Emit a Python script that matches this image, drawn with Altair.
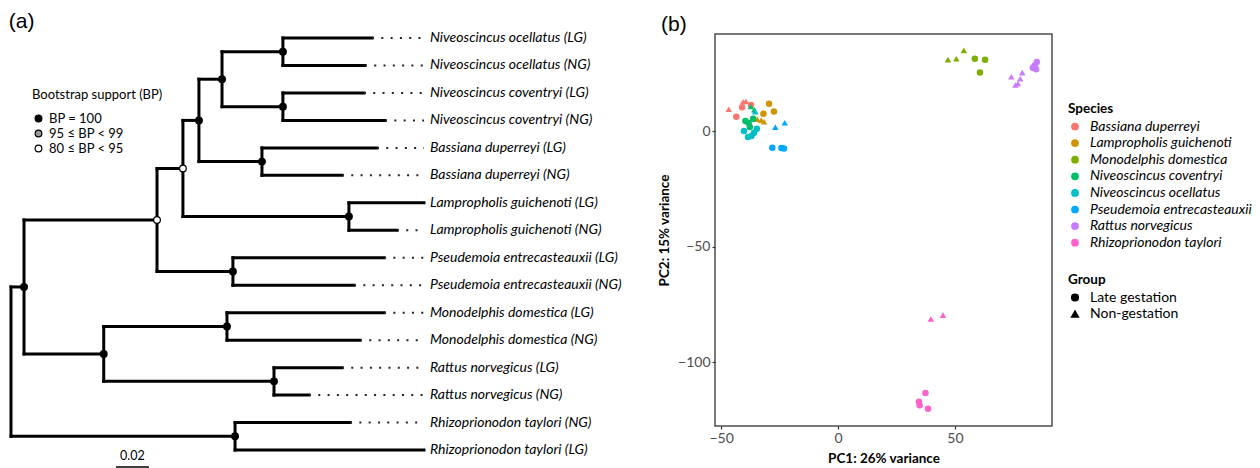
import altair as alt
import pandas as pd

# ---------------- Panel (a): phylogeny data ----------------
leaf_labels = [
    "Niveoscincus ocellatus (LG)", "Niveoscincus ocellatus (NG)",
    "Niveoscincus coventryi (LG)", "Niveoscincus coventryi (NG)",
    "Bassiana duperreyi (LG)", "Bassiana duperreyi (NG)",
    "Lampropholis guichenoti (LG)", "Lampropholis guichenoti (NG)",
    "Pseudemoia entrecasteauxii (LG)", "Pseudemoia entrecasteauxii (NG)",
    "Monodelphis domestica (LG)", "Monodelphis domestica (NG)",
    "Rattus norvegicus (LG)", "Rattus norvegicus (NG)",
    "Rhizoprionodon taylori (NG)", "Rhizoprionodon taylori (LG)",
]
leaf_depth = [0.2188, 0.2145, 0.2139, 0.2267, 0.2218, 0.2006, 0.2503, 0.2339,
              0.2261, 0.2079, 0.2261, 0.2115, 0.2006, 0.1806, 0.2055, 0.2503]
leaf_parent = ["Nocell", "Nocell", "Ncov", "Ncov", "Bdup", "Bdup", "Lgui", "Lgui",
               "Pent", "Pent", "Mdom", "Mdom", "Rnor", "Rnor", "Rtay", "Rtay"]

node_names = ["root", "A", "B", "C", "D", "E", "Nocell", "Ncov", "Bdup", "Lgui",
              "Pent", "Mam", "Mdom", "Rnor", "Rtay"]
node_parent = [None, "root", "A", "B", "C", "D", "E", "E", "D", "C", "B", "A",
               "Mam", "Mam", "root"]
node_depth = [0.0, 0.0079, 0.0885, 0.1042, 0.1139, 0.1279, 0.1648, 0.1648, 0.1521,
              0.2048, 0.1345, 0.0562, 0.1309, 0.1594, 0.1358]
node_support = [None, "BP = 100", "80 ≤ BP < 95", "80 ≤ BP < 95", "BP = 100",
                "BP = 100", "BP = 100", "BP = 100", "BP = 100", "BP = 100",
                "BP = 100", "BP = 100", "BP = 100", "BP = 100", "BP = 100"]
support_levels = ["BP = 100", "95 ≤ BP < 99", "80 ≤ BP < 95"]
scale_bar_len = 0.02
scale_bar_start = 0.0636

# ---------------- Panel (b): PCA data ----------------
species_levels = ["Bassiana duperreyi", "Lampropholis guichenoti", "Monodelphis domestica",
                  "Niveoscincus coventryi", "Niveoscincus ocellatus",
                  "Pseudemoia entrecasteauxii", "Rattus norvegicus", "Rhizoprionodon taylori"]
species_colors = ["#F8766D", "#CD9600", "#7CAE00", "#00BE67", "#00BFC4", "#00A9FF",
                  "#C77CFF", "#FF61CC"]
group_levels = ["Late gestation", "Non-gestation"]

pca_species = (["Bassiana duperreyi"] * 6 + ["Lampropholis guichenoti"] * 7 +
               ["Monodelphis domestica"] * 6 + ["Niveoscincus coventryi"] * 6 +
               ["Niveoscincus ocellatus"] * 6 + ["Pseudemoia entrecasteauxii"] * 5 +
               ["Rattus norvegicus"] * 9 + ["Rhizoprionodon taylori"] * 6)
NG, LG = "Non-gestation", "Late gestation"
pca_group = ([NG, NG, NG, LG, LG, LG] +
             [LG, LG, LG, NG, NG, NG, NG] +
             [NG, NG, NG, LG, LG, LG] +
             [NG, NG, LG, LG, LG, LG] +
             [NG, LG, LG, LG, LG, LG] +
             [NG, NG, LG, LG, LG] +
             [NG, NG, NG, NG, NG, LG, LG, LG, LG] +
             [NG, NG, LG, LG, LG, LG])
pca_pc1 = ([-46.7, -40.6, -39.4, -43.5, -41.0, -37.2] +
           [-29.5, -27.4, -31.9, -36.0, -34.5, -32.8, -31.6] +
           [47.0, 50.6, 53.8, 58.5, 62.9, 60.7] +
           [-37.3, -35.8, -39.6, -37.7, -36.3, -38.2] +
           [-35.4, -40.2, -38.5, -37.0, -35.9, -34.7] +
           [-26.8, -22.8, -28.1, -24.2, -23.1] +
           [74.1, 78.8, 77.9, 75.9, 76.9, 85.0, 84.1, 83.3, 84.7] +
           [39.7, 44.9, 37.4, 34.6, 34.9, 38.5])
pca_pc2 = ([9.4, 12.7, 12.9, 6.2, 10.3, 11.3] +
           [11.8, 8.4, 7.5, 5.5, 5.1, 4.7, 4.0] +
           [30.9, 31.3, 34.9, 31.3, 30.9, 25.3] +
           [10.6, 9.2, 4.3, 1.7, 5.3, 3.5] +
           [8.4, 0.0, -2.6, -2.2, -0.7, 1.0] +
           [1.7, 3.6, -7.2, -7.4, -7.6] +
           [23.5, 25.3, 22.6, 19.9, 20.6, 29.9, 28.4, 27.4, 26.7] +
           [-81.4, -79.7, -113.4, -117.2, -118.7, -120.2])

# ---------------- build tree layout tables ----------------
depth = dict(zip(node_names, node_depth))
parent = dict(zip(node_names, node_parent))
children = {n: [] for n in node_names}
for n, p in zip(node_names, node_parent):
    if p is not None:
        children[p].append(("node", n))
for i, p in enumerate(leaf_parent):
    children[p].append(("leaf", i))

ypos = {}
def get_y(kind, key):
    if kind == "leaf":
        return float(key)
    if key in ypos:
        return ypos[key]
    ys = [get_y(k, c) for k, c in children[key]]
    ypos[key] = sum(ys) / len(ys)
    return ypos[key]

for n in node_names:
    get_y("node", n)

segs = []
for n in node_names:
    ys = [get_y(k, c) for k, c in children[n]]
    segs.append(dict(x=depth[n], x2=depth[n], y=min(ys), y2=max(ys)))
    if parent[n] is not None:
        segs.append(dict(x=depth[parent[n]], x2=depth[n], y=ypos[n], y2=ypos[n]))
for i, p in enumerate(leaf_parent):
    segs.append(dict(x=depth[p], x2=leaf_depth[i], y=float(i), y2=float(i)))
seg_df = pd.DataFrame(segs)

label_col = max(leaf_depth)
leaf_df = pd.DataFrame(dict(label=leaf_labels, tip=leaf_depth,
                            end=[label_col] * len(leaf_labels),
                            y=[float(i) for i in range(len(leaf_labels))]))
node_df = pd.DataFrame(dict(x=node_depth, y=[ypos[n] for n in node_names],
                            support=node_support)).dropna()
bar_df = pd.DataFrame(dict(x=[scale_bar_start], x2=[scale_bar_start + scale_bar_len],
                           mid=[scale_bar_start + scale_bar_len / 2],
                           txt=[f"{scale_bar_len:.2f}"], yb=[15.62], yt=[15.22]))

PANEL_A_W = 635
XS = alt.Scale(domain=[-0.0006, -0.0006 + PANEL_A_W / 1650], nice=False, zero=False)
YS = alt.Scale(domain=[-0.146, 15.69], reverse=True, nice=False, zero=False)

branches = alt.Chart(seg_df).mark_rule(strokeWidth=3, color="black", strokeCap="square").encode(
    x=alt.X("x:Q", scale=XS, axis=None), x2="x2:Q",
    y=alt.Y("y:Q", scale=YS, axis=None), y2="y2:Q")

leaders = alt.Chart(leaf_df).transform_filter("datum.end - datum.tip > 0.001").mark_rule(
    strokeWidth=2, color="#222222", strokeDash=[2, 7.3]).encode(
    x=alt.X("tip:Q", scale=XS, axis=None), x2="end:Q",
    y=alt.Y("y:Q", scale=YS, axis=None))

labels = alt.Chart(leaf_df).mark_text(align="left", baseline="middle", dx=6, font="Lato",
                                      fontStyle="italic", fontSize=14, color="black").encode(
    x=alt.X("end:Q", scale=XS, axis=None),
    y=alt.Y("y:Q", scale=YS, axis=None), text="label:N")

nodes = alt.Chart(node_df).mark_point(filled=True, shape="circle", size=45, stroke="black",
                                      strokeWidth=1.2, opacity=1).encode(
    x=alt.X("x:Q", scale=XS, axis=None),
    y=alt.Y("y:Q", scale=YS, axis=None),
    fill=alt.Fill("support:N",
                  scale=alt.Scale(domain=support_levels, range=["black", "#9a9a9a", "white"]),
                  legend=alt.Legend(title="Bootstrap support (BP)", orient="none",
                                    legendX=22, legendY=55, titleFont="Lato",
                                    titleFontWeight="normal", titleFontSize=13,
                                    titleColor="black", labelFont="Lato", labelFontSize=13,
                                    labelColor="black", symbolType="circle", symbolSize=45,
                                    symbolStrokeColor="black", symbolStrokeWidth=1.2,
                                    rowPadding=1, titlePadding=10, labelOffset=4)))

bar = alt.Chart(bar_df).mark_rule(strokeWidth=1.5, color="black").encode(
    x=alt.X("x:Q", scale=XS, axis=None), x2="x2:Q",
    y=alt.Y("yb:Q", scale=YS, axis=None))
bar_txt = alt.Chart(bar_df).mark_text(font="Lato", fontSize=12.5, color="black",
                                      baseline="middle").encode(
    x=alt.X("mid:Q", scale=XS, axis=None),
    y=alt.Y("yt:Q", scale=YS, axis=None), text="txt:N")

panel_a = alt.layer(branches, leaders, labels, nodes, bar, bar_txt).properties(
    width=PANEL_A_W, height=435,
    title=alt.TitleParams("(a)", anchor="start", fontSize=21, font="Liberation Sans",
                          fontWeight="normal", color="black", offset=2, dy=3))

# ---------------- Panel (b) ----------------
pca_df = pd.DataFrame(dict(species=pca_species, group=pca_group, pc1=pca_pc1, pc2=pca_pc2))

panel_b = alt.Chart(pca_df).mark_point(filled=True, size=42, opacity=1).encode(
    x=alt.X("pc1:Q", title="PC1: 26% variance",
            scale=alt.Scale(domain=[-52.6, 91.5], nice=False, zero=False),
            axis=alt.Axis(values=[-50, 0, 50])),
    y=alt.Y("pc2:Q", title="PC2: 15% variance",
            scale=alt.Scale(domain=[-127.7, 42], nice=False, zero=False),
            axis=alt.Axis(values=[-100, -50, 0])),
    color=alt.Color("species:N", scale=alt.Scale(domain=species_levels, range=species_colors),
                    legend=alt.Legend(title="Species", orient="none", legendX=1058, legendY=68,
                                      labelFontStyle="italic", symbolType="circle",
                                      labelFontSize=14, labelLimit=300, symbolSize=60,
                                      rowPadding=2.6)),
    shape=alt.Shape("group:N", scale=alt.Scale(domain=group_levels,
                                                range=["circle", "triangle-up"]),
                    legend=alt.Legend(title="Group", orient="none", legendX=1058, legendY=239,
                                      symbolFillColor="black", symbolStrokeColor="black",
                                      labelFontSize=14, labelLimit=300, symbolSize=45,
                                      rowPadding=2.5)),
).properties(
    width=337, height=392,
    view=alt.ViewBackground(stroke="#4d4d4d", strokeWidth=1.5),
    title=alt.TitleParams("(b)", anchor="start", frame="group", fontSize=21,
                          font="Liberation Sans", fontWeight="normal", color="black",
                          offset=2, dx=-54, dy=3))

chart = alt.hconcat(panel_a, panel_b, spacing=11).properties(
    padding={"top": 3, "left": 0, "right": 0, "bottom": 0}).configure_view(
    stroke=None).configure_axis(
    grid=False, domain=False, tickColor="#333333", tickSize=3, tickWidth=1.2,
    labelColor="#4d4d4d", labelFont="Lato", labelFontSize=14, labelPadding=2,
    titleFont="Lato", titleFontWeight="bold", titleFontSize=13.5, titleColor="black",
    titlePadding=6).configure_legend(
    titleFont="Lato", titleFontSize=13.5, titleFontWeight="bold", titleColor="black",
    labelFont="Lato", labelFontSize=14, labelColor="black", labelOffset=8, titlePadding=4)

chart.save("out.html", embed_options={"renderer": "svg", "actions": False})
